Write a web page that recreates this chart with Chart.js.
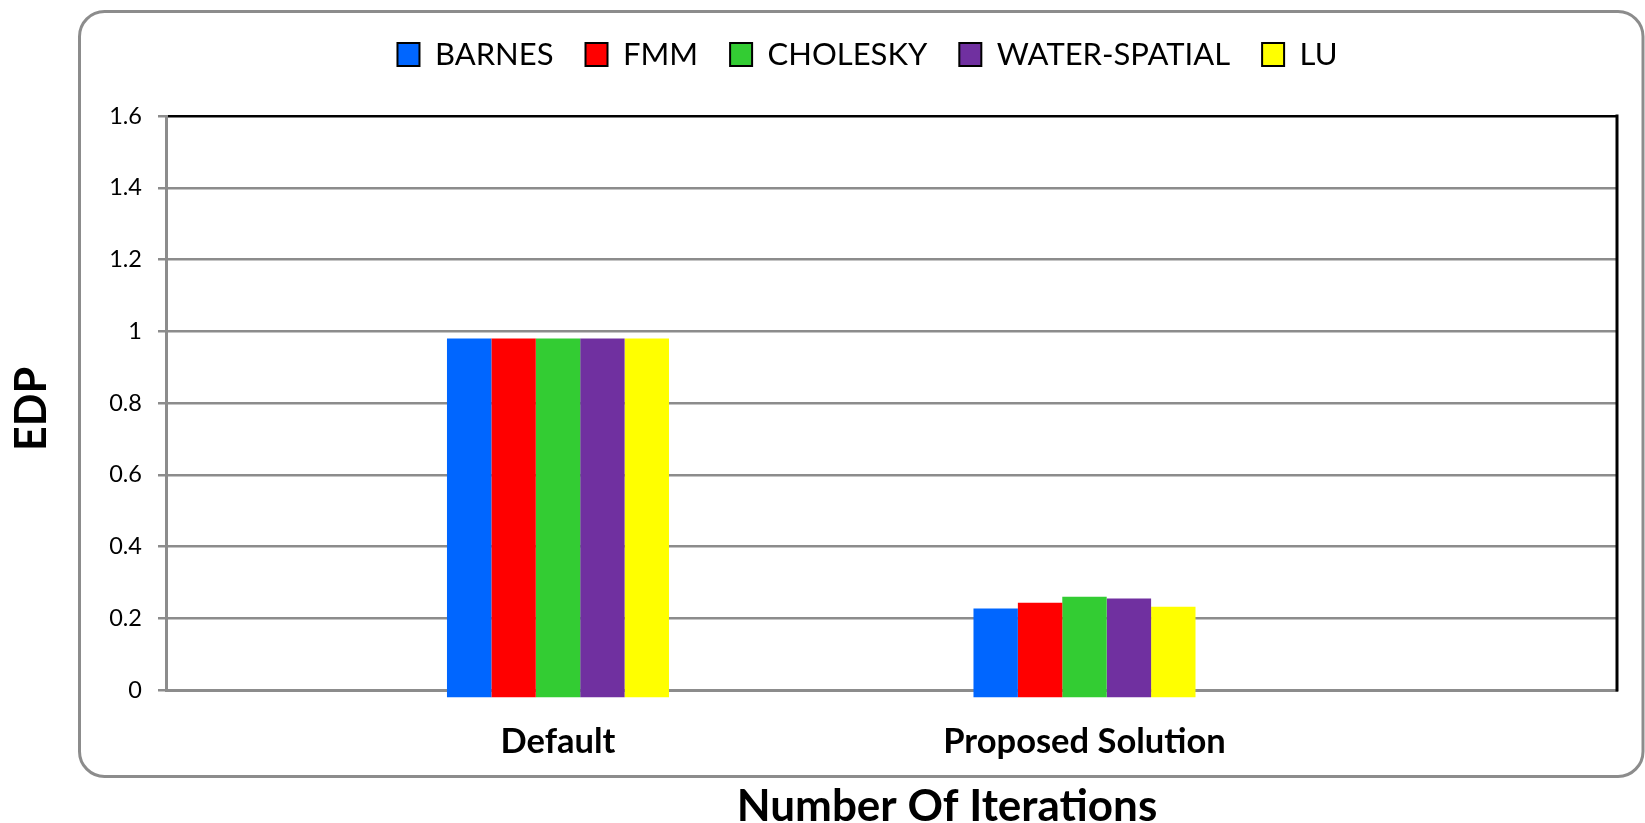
<!DOCTYPE html>
<html>
<head>
<meta charset="utf-8">
<title>EDP</title>
<script src="https://cdn.jsdelivr.net/npm/chart.js@4/dist/chart.umd.min.js"></script>
<style>
    html, body { margin: 0; padding: 0; background: #fff; }
    #wrap { width: 1645px; height: 823px; position: relative; }
</style>
</head>
<body>
<div id="wrap"><canvas id="chart-edp"></canvas></div>
<script>
// Data
const categories = ['Default', 'Proposed Solution'];
const seriesNames = ['BARNES', 'FMM', 'CHOLESKY', 'WATER-SPATIAL', 'LU'];
const barnes = [0.98, 0.227];
const fmm = [0.98, 0.243];
const cholesky = [0.98, 0.26];
const waterSpatial = [0.98, 0.255];
const lu = [0.98, 0.232];
const yTicks = [0, 0.2, 0.4, 0.6, 0.8, 1, 1.2, 1.4, 1.6];

const seriesValues = [barnes, fmm, cholesky, waterSpatial, lu];
const seriesColors = ['#0066ff', '#ff0000', '#33cc33', '#7030a0', '#ffff00'];

const GRID = '#8c8c8c';
const FONT = 'Lato, "Open Sans", sans-serif';

// outer rounded frame, right border of the plot and the free-floating axis titles
const framePlugin = {
    id: 'frame',
    beforeDraw(chart) {
        const ctx = chart.ctx;
        ctx.save();
        ctx.fillStyle = '#fff';
        ctx.fillRect(0, 0, chart.width, chart.height);
        ctx.strokeStyle = GRID;
        ctx.lineWidth = 3;
        ctx.beginPath();
        ctx.roundRect(79.5, 11.5, 1643 - 79.5, 776.5 - 11.5, 25);
        ctx.stroke();
        ctx.restore();
    },
    afterDraw(chart) {
        const ctx = chart.ctx;
        const area = chart.chartArea;
        ctx.save();
        ctx.strokeStyle = '#000';
        ctx.lineWidth = 3;
        ctx.beginPath();
        ctx.moveTo(area.right, area.top - 1.5);
        ctx.lineTo(area.right, area.bottom + 1.5);
        ctx.stroke();

        ctx.fillStyle = '#000';
        ctx.textAlign = 'center';
        ctx.textBaseline = 'middle';
        ctx.font = 'bold 44px ' + FONT;
        ctx.fillText('Number Of Iterations', 947, 807);

        ctx.translate(32, 409);
        ctx.rotate(-Math.PI / 2);
        ctx.font = 'bold 43px ' + FONT;
        ctx.fillText('EDP', 0, 0);
        ctx.restore();
    }
};

const datasets = seriesNames.map((name, s) => ({
    label: name,
    data: seriesValues[s].map((v, i) => ({ x: i + 1, y: v })),
    xAxisID: 'x',
    yAxisID: 'y',
    backgroundColor: seriesColors[s],
    borderWidth: 0,
    base: -0.02,
    clip: false,
    categoryPercentage: 0.4217,
    barPercentage: 1
}));

new Chart(document.getElementById('chart-edp'), {
    type: 'bar',
    data: { datasets },
    plugins: [framePlugin],
    options: {
        responsive: true,
        maintainAspectRatio: false,
        animation: false,
        layout: { padding: { left: 90, right: 0, top: 7, bottom: 0 } },
        plugins: {
            tooltip: { enabled: false },
            legend: {
                position: 'top',
                align: 'center',
                labels: {
                    color: '#000',
                    font: { family: FONT, size: 31 },
                    boxWidth: 22,
                    boxHeight: 23,
                    padding: 32,
                    generateLabels: (chart) =>
                        Chart.defaults.plugins.legend.labels.generateLabels(chart).map(item => ({
                            ...item,
                            strokeStyle: '#000',
                            lineWidth: 2
                        }))
                }
            }
        },
        scales: {
            x: {
                type: 'linear',
                position: 'bottom',
                min: 0.2555,
                max: 3.0114,
                offset: false,
                z: 1,
                afterBuildTicks: (scale) => {
                    scale.ticks = categories.map((c, i) => ({ value: i + 1 }));
                },
                afterFit: (scale) => { scale.height = 133; },
                grid: { display: false, drawTicks: false, offset: false },
                border: { display: true, color: GRID, width: 3 },
                ticks: {
                    autoSkip: false,
                    maxRotation: 0,
                    padding: 31,
                    color: '#000',
                    font: { family: FONT, size: 34.5, weight: 'bold' },
                    callback: (value, index) => categories[index]
                }
            },
            y: {
                position: 'left',
                min: yTicks[0],
                max: yTicks[yTicks.length - 1],
                afterBuildTicks: (scale) => {
                    scale.ticks = yTicks.map(v => ({ value: v }));
                },
                afterFit: (scale) => { scale.width = 76; },
                grid: {
                    color: (c) => (c.tick && c.tick.value >= 1.6 - 1e-9 ? '#000' : GRID),
                    tickColor: GRID,
                    lineWidth: 2.5,
                    drawTicks: true,
                    tickLength: 8
                },
                border: { display: true, color: GRID, width: 3 },
                ticks: {
                    padding: 16,
                    color: '#000',
                    font: { family: FONT, size: 23.5 },
                    callback: (value) => String(value)
                }
            },
            // empty spacer scales: room between legend and plot, and right margin
            gap: {
                type: 'linear',
                axis: 'x',
                position: 'top',
                display: true,
                afterFit: (scale) => { scale.height = 36; },
                grid: { display: false, drawTicks: false },
                border: { display: false },
                ticks: { display: false }
            },
            gapRight: {
                type: 'linear',
                axis: 'y',
                position: 'right',
                display: true,
                afterFit: (scale) => { scale.width = 28; },
                grid: { display: false, drawTicks: false },
                border: { display: false },
                ticks: { display: false }
            }
        }
    }
});
</script>
</body>
</html>
